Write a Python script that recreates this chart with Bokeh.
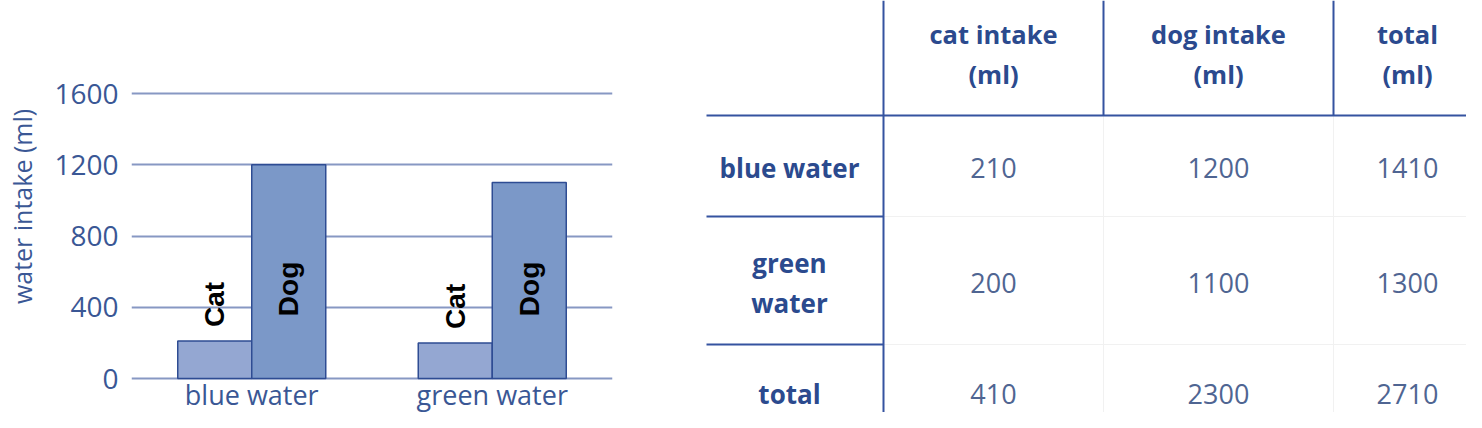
import math
from bokeh.plotting import figure
from bokeh.models import FactorRange, Range1d, FixedTicker, ColumnDataSource, CategoricalAxis
from bokeh.transform import dodge
from bokeh.layouts import row
from bokeh.core.properties import value
from bokeh.embed import file_html
from bokeh.resources import INLINE

# ---------------- data ----------------
groups = ["blue water", "green water"]
cat_intake = [210, 200]
dog_intake = [1200, 1100]
y_ticks = [0, 400, 800, 1200, 1600]
y_label = "water intake (ml)"
bar_names = ["Cat", "Dog"]

table_col_titles = ["cat intake", "dog intake", "total"]
table_col_units = ["(ml)", "(ml)", "(ml)"]
table_row_labels = [["blue water"], ["green", "water"], ["total"]]
table_cat = [210, 200, 410]
table_dog = [1200, 1100, 2300]
table_total = [1410, 1300, 2710]

# ---------------- style ----------------
FONT = "Open Sans"
TXT = "#3a5795"
GRID = "#8798c3"
CAT_FILL = "#94a7d2"
DOG_FILL = "#7b98c8"
BAR_LINE = "#2e4c93"
TBL_LINE = "#3553a0"
TBL_HEAD = "#2b4a8e"
TBL_VAL = "#4f6592"
TBL_FAINT = "#f1f1f1"

H = 412
LEFT_W = 690
# ---------------- bar chart ----------------
zero_px, top_px = 378, 93
px_per_unit = (zero_px - top_px) / 1600.0
y_end = zero_px / px_per_unit
y_start = -(H - zero_px) / px_per_unit

src = ColumnDataSource(dict(group=groups, cat=cat_intake, dog=dog_intake,
                            cat_lab=[bar_names[0]] * len(groups),
                            dog_lab=[bar_names[1]] * len(groups),
                            dog_pos=[350] * len(groups)))

p = figure(width=LEFT_W, height=H, x_range=FactorRange(*groups),
           y_range=Range1d(y_start, y_end), output_backend="svg",
           toolbar_location=None, x_axis_location=None,
           min_border_left=131, min_border_right=LEFT_W - 612,
           min_border_top=0, min_border_bottom=0)
p.outline_line_color = None
p.background_fill_color = "white"

bw = 74 / 240.5
p.vbar(x=dodge("group", -bw / 2, range=p.x_range), top="cat", bottom=0, width=bw,
       source=src, fill_color=CAT_FILL, line_color=BAR_LINE, line_width=1.5)
p.vbar(x=dodge("group", bw / 2, range=p.x_range), top="dog", bottom=0, width=bw,
       source=src, fill_color=DOG_FILL, line_color=BAR_LINE, line_width=1.5)

p.text(x=dodge("group", -bw / 2, range=p.x_range), y="cat", text="cat_lab", source=src,
       angle=math.pi / 2, text_align="left", text_baseline="middle", y_offset=-14,
       text_font=value("Liberation Sans"), text_font_style="bold",
       text_font_size="28px", text_color="black")
p.text(x=dodge("group", bw / 2, range=p.x_range), y="dog_pos", text="dog_lab", source=src,
       angle=math.pi / 2, text_align="left", text_baseline="middle",
       text_font=value("Liberation Sans"), text_font_style="bold",
       text_font_size="28px", text_color="black")

xax = CategoricalAxis(fixed_location=0)
p.add_layout(xax, "below")

p.xgrid.visible = False
p.ygrid.ticker = FixedTicker(ticks=y_ticks)
p.ygrid.grid_line_color = GRID
p.ygrid.grid_line_width = 2

p.yaxis.ticker = FixedTicker(ticks=y_ticks)
p.yaxis.axis_label = y_label
for ax in (xax, p.yaxis[0]):
    ax.axis_line_color = None
    ax.major_tick_line_color = None
    ax.minor_tick_line_color = None
    ax.major_tick_out = 0
    ax.major_tick_in = 0
    ax.major_label_text_font = FONT
    ax.major_label_text_color = TXT
xax.major_label_text_font_size = "27px"
xax.major_label_standoff = -3
p.yaxis.major_label_text_font_size = "28px"
p.yaxis.major_label_standoff = 13
p.yaxis.axis_label_text_font = FONT
p.yaxis.axis_label_text_font_size = "25px"
p.yaxis.axis_label_text_font_style = "normal"
p.yaxis.axis_label_text_color = TXT
p.yaxis.axis_label_standoff = 12

# ---------------- table ----------------
W = 776
t = figure(width=W, height=H, x_range=Range1d(LEFT_W, LEFT_W + W), y_range=Range1d(H, 0),
           output_backend="svg", toolbar_location=None, min_border=0,
           x_axis_location=None, y_axis_location=None)
t.outline_line_color = None
t.grid.visible = False

col_x = [993, 1218, 1407]
row_y = [167, 282, 393]
lab_x = 789
v1, v2, v3 = 883, 1103, 1333
h1, h2, h3 = 115, 216, 344
left_x = 706
right_x = LEFT_W + W

# faint body lines
t.segment(x0=[v2, v3, v1, v1], y0=[h1, h1, h2, h3], x1=[v2, v3, right_x, right_x],
          y1=[H, H, h2, h3], line_color=TBL_FAINT, line_width=1)
# strong lines
t.segment(x0=[left_x, left_x, left_x, v1, v2, v3], y0=[h1, h2, h3, 0, 0, 0],
          x1=[right_x, v1, v1, v1, v2, v3], y1=[h1, h2, h3, H, h1, h1],
          line_color=TBL_LINE, line_width=2)

t.text(x=col_x, y=[33] * 3, text=table_col_titles, text_align="center",
       text_baseline="middle", text_font=value(FONT), text_font_style="bold",
       text_font_size="25.5px", text_color=TBL_HEAD)
t.text(x=col_x, y=[73] * 3, text=table_col_units, text_align="center",
       text_baseline="middle", text_font=value(FONT), text_font_style="bold",
       text_font_size="25.5px", text_color=TBL_HEAD)

lab_txt, lab_y = [], []
for lines, yc in zip(table_row_labels, row_y):
    n = len(lines)
    for i, s in enumerate(lines):
        lab_txt.append(s)
        lab_y.append(yc + (i - (n - 1) / 2) * 40)
t.text(x=[lab_x] * len(lab_txt), y=lab_y, text=lab_txt, text_align="center",
       text_baseline="middle", text_font=value(FONT), text_font_style="bold",
       text_font_size="26px", text_color=TBL_HEAD)

vals, vx, vy = [], [], []
for ci, col in enumerate([table_cat, table_dog, table_total]):
    for ri, v in enumerate(col):
        vals.append(str(v))
        vx.append(col_x[ci])
        vy.append(row_y[ri])
t.text(x=vx, y=vy, text=vals, text_align="center", text_baseline="middle",
       text_font=value(FONT), text_font_size="27px", text_color=TBL_VAL)

layout = row(p, t, spacing=0)
open("out.html", "w").write(file_html(layout, INLINE))
